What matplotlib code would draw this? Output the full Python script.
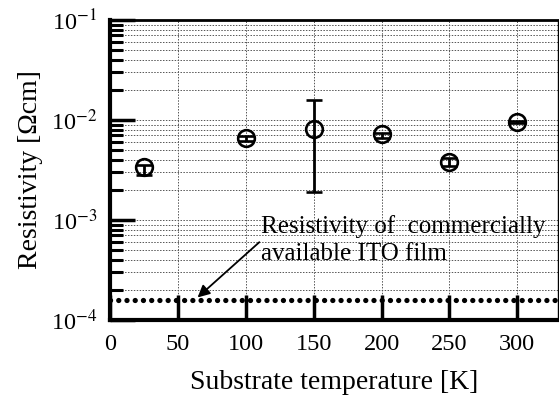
import numpy as np
import matplotlib
matplotlib.use('Agg')
import matplotlib.pyplot as plt
from matplotlib.ticker import LogLocator, NullFormatter

plt.rcParams['font.family'] = ['Liberation Serif', 'DejaVu Serif']
plt.rcParams['mathtext.fontset'] = 'stix'

# substrate temperature and resistivity
temps = [25, 100, 150, 200, 250, 300]
rho = [3.4e-3, 6.55e-3, 8.1e-3, 7.2e-3, 3.78e-3, 9.55e-3]
err_low = [0.55e-3, 0.4e-3, 6.2e-3, 0.55e-3, 0.3e-3, 0.25e-3]
err_high = [0.15e-3, 0.35e-3, 7.7e-3, 0.2e-3, 0.35e-3, 0.25e-3]
ito_rho = 1.6e-4

xticks = [0, 50, 100, 150, 200, 250, 300]
yticks = [1e-4, 1e-3, 1e-2, 1e-1]
ylabels = ['10$^{-4}$', '10$^{-3}$', '10$^{-2}$', '10$^{-1}$']

fig = plt.figure(figsize=(5.59, 3.98), dpi=100)
ax = fig.add_axes([0.1968, 0.196, 0.8014, 0.7538])

ax.set_yscale('log')
ax.set_xlim(0, 330)
ax.set_ylim(1e-4, 1e-1)

ax.grid(True, which='both', axis='y', linestyle=(0, (1.5, 1.5)), color='#555555', linewidth=0.7)
ax.grid(True, which='major', axis='x', linestyle=(0, (1.5, 1.5)), color='#555555', linewidth=0.7)

ax.axhline(ito_rho, color='black', linewidth=3.8, dashes=[0.01, 1.55],
           dash_capstyle='round', zorder=3)

ax.errorbar(temps, rho, yerr=[err_low, err_high], fmt='o', markersize=12,
            markerfacecolor='none', markeredgecolor='black', markeredgewidth=1.9,
            ecolor='black', elinewidth=2, capsize=5.5, capthick=2, zorder=4)

ax.annotate('', xy=(64.5, 1.68e-4), xytext=(110, 6.0e-4),
            arrowprops=dict(arrowstyle='-|>', color='black', lw=1.3,
                            mutation_scale=18, shrinkA=0, shrinkB=0))
ax.text(111.5, 6.3e-4, 'Resistivity of  commercially\navailable ITO film',
        fontsize=18, va='center', ha='left', linespacing=1.3)

ax.set_xticks(xticks)
ax.set_yticks(yticks)
ax.set_yticklabels(ylabels)
ax.yaxis.set_minor_locator(LogLocator(base=10, subs=np.arange(2, 10)))
ax.yaxis.set_minor_formatter(NullFormatter())

ax.tick_params(which='major', direction='in', length=18, width=2.5,
               labelsize=17.5, top=False, right=False)
ax.tick_params(which='minor', direction='in', length=9, width=2.2,
               top=False, right=False)
ax.tick_params(axis='x', which='major', pad=10)
ax.tick_params(axis='y', which='major', pad=9)

for side in ['left', 'bottom']:
    ax.spines[side].set_linewidth(3)
ax.spines['top'].set_linewidth(2)
ax.spines['right'].set_linewidth(1)

ax.set_xlabel('Substrate temperature [K]', fontsize=20, labelpad=11)
ax.set_ylabel('Resistivity [Ωcm]', fontsize=20, labelpad=6)

fig.savefig('out.png', dpi=100)
